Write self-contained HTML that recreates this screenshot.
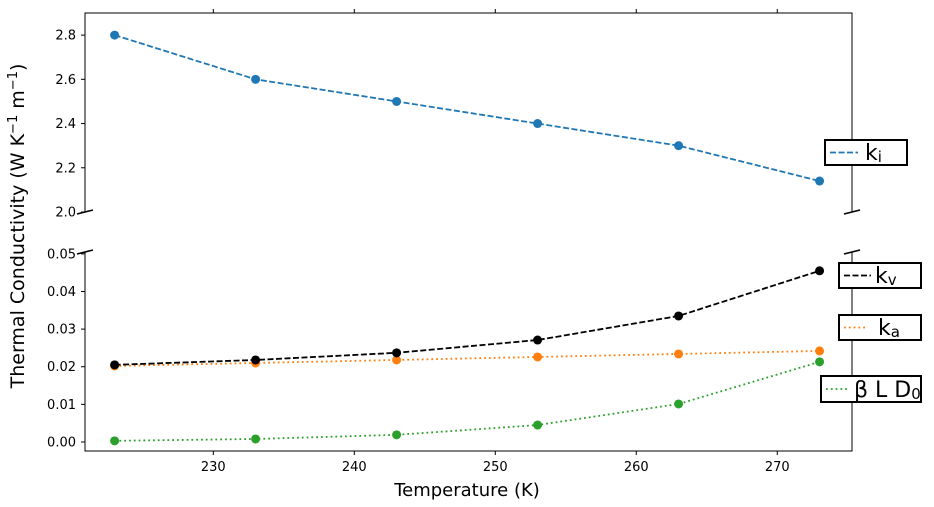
<!DOCTYPE html>
<html><head><meta charset="utf-8"><style>
body{margin:0;background:#fff}
svg{display:block;font-family:"DejaVu Sans","Liberation Sans",sans-serif}
</style></head><body>
<svg id="c" width="934" height="507"></svg>
<script>
const temps=[223,233,243,253,263,273];
const kI=[2.8,2.6,2.5,2.4,2.3,2.14];
const kV=[0.0205,0.0218,0.0237,0.0271,0.0335,0.0455];
const kA=[0.0202,0.021,0.0218,0.0226,0.0234,0.0242];
const betaLD=[0.0003,0.0008,0.0019,0.0045,0.0101,0.0213];
const xTicks=[230,240,250,260,270];
const topTicks=[2.0,2.2,2.4,2.6,2.8];
const botTicks=[0,0.01,0.02,0.03,0.04,0.05];

const L=85,R=852,T1=13,B1=212,T2=252,B2=451;
const x=v=>L+(v-220.9)/(275.3-220.9)*(R-L);
const yT=v=>B1-(v-2.0)/(2.9-2.0)*(B1-T1);
const yB=v=>B2-(v+0.0024)/(0.0505+0.0024)*(B2-T2);
const svg=document.getElementById('c');
const NS='http://www.w3.org/2000/svg';
function mk(tag,a,name,txt){const e=document.createElementNS(NS,tag);for(const k in a)e.setAttribute(k,a[k]);


if(txt!==undefined)e.textContent=txt;svg.appendChild(e);return e;}

mk('path',{d:`M${L},${B1}L${L},${T1}L${R},${T1}L${R},${B1}`,fill:'none',stroke:'#000','stroke-width':1},'top-axes-frame');
mk('path',{d:`M${L},${T2}L${L},${B2}L${R},${B2}L${R},${T2}`,fill:'none',stroke:'#000','stroke-width':1},'bottom-axes-frame');
[[L,B1],[R,B1],[L,T2],[R,T2]].forEach(([px,py])=>mk('line',{x1:px-8,y1:py+2,x2:px+8,y2:py-2,stroke:'#000','stroke-width':1.5},'axis-break-mark'));
xTicks.forEach(t=>{const px=x(t);
mk('line',{x1:px,y1:B2,x2:px,y2:B2+4,stroke:'#000'},'x-tick');
mk('line',{x1:px,y1:T1,x2:px,y2:T1-4,stroke:'#000'},'x-tick-top');
mk('text',{x:px,y:B2+20,'text-anchor':'middle','font-size':13},'x-tick-label',t);});
topTicks.forEach(t=>{const py=yT(t);
mk('line',{x1:L,y1:py,x2:L-4,y2:py,stroke:'#000'},'y-tick-top');
mk('text',{x:L-9,y:py+4.5,'text-anchor':'end','font-size':13},'y-tick-label-top',t.toFixed(1));});
botTicks.forEach(t=>{const py=yB(t);
mk('line',{x1:L,y1:py,x2:L-4,y2:py,stroke:'#000'},'y-tick-bottom');
mk('text',{x:L-9,y:py+4.5,'text-anchor':'end','font-size':13},'y-tick-label-bottom',t.toFixed(2));});
mk('text',{x:467,y:496,'text-anchor':'middle','font-size':18},'x-axis-title','Temperature (K)');
const yl=mk('text',{x:0,y:0,'text-anchor':'middle','font-size':19,transform:'translate(24,226) rotate(-90)'},'y-axis-title');
yl.innerHTML='Thermal Conductivity (W K<tspan dy="-7" font-size="13">−1</tspan><tspan dy="7"> m</tspan><tspan dy="-7" font-size="13">−1</tspan><tspan dy="7">)</tspan>';

function series(vals,yf,col,dash,name){
 mk('polyline',{points:vals.map((v,i)=>x(temps[i])+','+yf(v)).join(' '),fill:'none',stroke:col,'stroke-width':1.8,'stroke-dasharray':dash},name+'-line');
 vals.forEach((v,i)=>mk('circle',{cx:x(temps[i]),cy:yf(v),r:4.5,fill:col},name+'-point'));
}
series(kI,yT,'#1f77b4','6,2.5','ki');
series(kA,yB,'#ff7f0e','1.8,3','ka');
series(betaLD,yB,'#2ca02c','1.8,3','beta-ld0');
series(kV,yB,'#000','6,2.5','kv');

function legend(bx,by,w,h,col,dash,lx2,tx,lbl,name){
 mk('rect',{x:bx,y:by,width:w,height:h,fill:'#fff',stroke:'#000','stroke-width':2},name+'-legend-box');
 mk('line',{x1:bx+5,y1:by+h/2,x2:lx2,y2:by+h/2,stroke:col,'stroke-width':1.8,'stroke-dasharray':dash},name+'-legend-line');
 const t=mk('text',{x:tx,y:by+h-5,'font-size':22},name+'-legend-label');t.innerHTML=lbl;
}
legend(825,140,82,25,'#1f77b4','6,2.5',858,865,'k<tspan font-size="15" dy="2">i</tspan>','ki');
legend(839,263,82,25,'#000','6,2.5',871,875,'k<tspan font-size="15" dy="2">v</tspan>','kv');
legend(839,315,82,25,'#ff7f0e','1.8,3',865,878,'k<tspan font-size="15" dy="2">a</tspan>','ka');
legend(821,376,100,26,'#2ca02c','1.8,3',848,854,'β L D<tspan font-size="15" dy="2">0</tspan>','beta-ld0');
</script>
</body></html>
